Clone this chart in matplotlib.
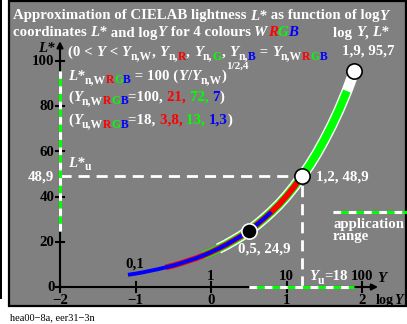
import numpy as np
import matplotlib
matplotlib.use("Agg")
import matplotlib.pyplot as plt
import matplotlib.patches as mpatches
from matplotlib.font_manager import FontProperties

W, H = 407, 324
SERIF = "Liberation Serif"
GRAY = "#808080"
RED, GREEN, BLUE, WHITE = "#ff0000", "#00ff00", "#0000ff", "#ffffff"

# ============ data ============
log_y = [-1.2, -1.1, -1.0, -0.9, -0.8, -0.7, -0.6, -0.5, -0.4, -0.3, -0.2, -0.1,
         0.0, 0.1, 0.2, 0.3, 0.4, 0.5, 0.6, 0.7, 0.8, 0.9, 1.0, 1.1, 1.2,
         1.3, 1.4, 1.5, 1.6, 1.7, 1.8, 1.9]
l_star = [4.9, 5.4, 5.9, 6.5, 7.2, 7.9, 8.7, 9.5, 10.5, 11.6, 12.7, 14.0,
          15.4, 17.0, 18.7, 20.6, 22.6, 24.9, 27.4, 30.2, 33.2, 36.5, 40.2, 44.3, 48.9,
          53.6, 59.0, 65.0, 71.5, 78.7, 86.7, 95.7]

# log Y range covered by each colour curve
range_white = (0.1, 1.9)
range_green = (-0.1, 1.8)
range_red = (-0.6, 1.2)
range_blue = (-1.1, 0.8)

marked_logy = [0.5, 1.2, 1.9]
marked_l = [24.9, 48.9, 95.7]

x_ticks = [-2, -1, 0, 1, 2]
x_ticklabels = ["\u22122", "\u22121", "0", "1", "2"]
y_ticks = [0, 20, 40, 60, 80, 100]
lin_labels = ["1", "10", "100"]

app_logy = (0.5, 1.9)
app_l = (24.9, 95.7)
l_u = 48.9
logy_u = 1.2

# ============ figure ============
fig = plt.figure(figsize=(W / 100, H / 100), dpi=100)
fig.patch.set_facecolor("white")
ax = fig.add_axes([0, 0, 1, 1])
X0, XS, Y0, YS = 211, 75.5, 287, 2.26
ax.set_xlim(-X0 / XS, (W - X0) / XS)
ax.set_ylim(-(H - Y0) / YS, Y0 / YS)
ax.axis("off")


def fx(px):
    return px / W


def fy(py):
    return 1 - py / H


# gray panel + left bar
ax.add_patch(mpatches.Rectangle((fx(8.5), fy(306)), fx(397), 305 / H, transform=ax.transAxes,
                                facecolor=GRAY, edgecolor="black", linewidth=1.6, zorder=0))
ax.add_patch(mpatches.Rectangle((0, fy(299)), fx(2), 299 / H, transform=ax.transAxes,
                                facecolor="black", edgecolor="none", zorder=0))

# dashed reference lines
ax.plot([-2, logy_u], [l_u, l_u], color=WHITE, lw=2, dashes=(4, 2.5), zorder=2)
ax.plot([logy_u, logy_u], [0, l_u], color=WHITE, lw=2, dashes=(4, 2.5), zorder=2)

# axes
ax.annotate("", xy=(-2, 110), xytext=(-2, -0.5),
            arrowprops=dict(arrowstyle="-|>", lw=1.5, color="black", mutation_scale=9), zorder=3)
ax.annotate("", xy=(2.25, 0), xytext=(-2.03, 0),
            arrowprops=dict(arrowstyle="-|>", lw=1.5, color="black", mutation_scale=9), zorder=3)
for t in y_ticks:
    ax.plot([-2.05, -1.95], [t, t], color="black", lw=1.5, zorder=3)
for t in x_ticks:
    ax.plot([t, t], [-2.2, 2.2], color="black", lw=1.5, zorder=3)

# application range (green/white dashes)
for xs, ys in [((-2, -2), app_l), (app_logy, (0, 0)), ((1.62, 2.6), (33.2, 33.2))]:
    ax.plot(xs, ys, color=GREEN, lw=2.2, zorder=4, solid_capstyle="butt")
    ax.plot(xs, ys, color=WHITE, lw=2.2, dashes=(2.5, 2.5), zorder=4)

# curves
x = np.array(log_y)
y = np.array(l_star)
for (lo, hi), col, lw, z in [(range_white, WHITE, 7.8, 5), (range_green, GREEN, 5.8, 6),
                              (range_red, RED, 4.2, 7), (range_blue, BLUE, 2.8, 8)]:
    m = (x >= lo - 1e-9) & (x <= hi + 1e-9)
    ax.plot(x[m], y[m], color=col, lw=lw, zorder=z, solid_capstyle="butt")

ax.plot(marked_logy[0], marked_l[0], "o", ms=11, mfc="black", mec=WHITE, mew=1.2, zorder=9)
ax.plot(marked_logy[1:], marked_l[1:], "o", ms=11, mfc=WHITE, mec="black", mew=1.2, zorder=9)

# ============ text ============
renderer = fig.canvas.get_renderer()
SIZE = 10.7


def width(s, fp):
    w1 = renderer.get_text_width_height_descent("|" + s + "|", fp, ismath=False)[0]
    w2 = renderer.get_text_width_height_descent("||", fp, ismath=False)[0]
    return w1 - w2


def rich(px, py, parts, size=SIZE):
    cx = px
    for s, col, kind in parts:
        fs, dy, st = size, 0, "normal"
        if kind == "i":
            st = "italic"
        elif kind == "sub":
            fs, dy = size * 0.78, 3.5
        elif kind == "sup":
            fs, dy = size * 0.75, -11
        fp = FontProperties(family=SERIF, weight="bold", style=st, size=fs)
        fig.text(fx(cx), fy(py + dy), s, color=col, fontproperties=fp, ha="left", va="baseline", zorder=10)
        cx += width(s, fp)
    return cx


def sub_wrgb(first="n,W"):
    return [(first, WHITE, "sub"), ("R", RED, "sub"), ("G", GREEN, "sub"), ("B", BLUE, "sub")]


rich(13, 19.5, [("Approximation of CIELAB lightness ", WHITE, "b"), ("L*", WHITE, "i"),
                (" as function of log", WHITE, "b"), ("Y", WHITE, "i")])
rich(13, 36.5, [("coordinates ", WHITE, "b"), ("L*", WHITE, "i"), (" and log", WHITE, "b"), ("Y", WHITE, "i"),
                (" for 4 colours ", WHITE, "b"), ("W", WHITE, "i"), ("R", RED, "i"), ("G", GREEN, "i"),
                ("B", BLUE, "i")])
rich(333, 36.5, [("log ", WHITE, "b"), ("Y", WHITE, "i"), (", ", WHITE, "b"), ("L*", WHITE, "i")])
rich(342, 55, [("1,9, 95,7", WHITE, "b")])

rich(68, 56, [("(0 < ", WHITE, "b"), ("Y", WHITE, "i"), (" < ", WHITE, "b"), ("Y", WHITE, "i"),
              ("n,W", WHITE, "sub"), (", ", WHITE, "b"), ("Y", WHITE, "i"), ("n,", WHITE, "sub"),
              ("R", RED, "sub"), (", ", WHITE, "b"), ("Y", WHITE, "i"), ("n,", WHITE, "sub"),
              ("G", GREEN, "sub"), (", ", WHITE, "b"), ("Y", WHITE, "i"), ("n,", WHITE, "sub"),
              ("B", BLUE, "sub"), (" = ", WHITE, "b"), ("Y", WHITE, "i")] + sub_wrgb())
rich(68, 80, [("L*", WHITE, "i")] + sub_wrgb() +
     [(" = 100 (", WHITE, "b"), ("Y", WHITE, "i"), ("/", WHITE, "b"), ("Y", WHITE, "i"),
      ("n,W", WHITE, "sub"), (")", WHITE, "b"), ("1/2,4", WHITE, "sup")])
rich(68, 101, [("(", WHITE, "b"), ("Y", WHITE, "i")] + sub_wrgb() +
     [("=100, ", WHITE, "b"), ("21, ", RED, "b"), ("72, ", GREEN, "b"), ("7", BLUE, "b"), (")", WHITE, "b")])
rich(68, 124, [("(", WHITE, "b"), ("Y", WHITE, "i")] + sub_wrgb("u,W") +
     [("=18, ", WHITE, "b"), ("3,8, ", RED, "b"), ("13, ", GREEN, "b"), ("1,3", BLUE, "b"), (")", WHITE, "b")])
rich(68, 167, [("L*", WHITE, "i"), ("u", WHITE, "sub")])

# axis labels
rich(38, 52, [("L*", "black", "i")])
bold = FontProperties(family=SERIF, weight="bold", size=SIZE)
for t in y_ticks:
    ax.annotate(str(t), (-2, t), xytext=(-4, -0.5), textcoords="offset points",
                ha="right", va="center", fontproperties=bold, color="black", zorder=10)
ax.annotate("48,9", (-2, l_u), xytext=(-4, -0.5), textcoords="offset points",
            ha="right", va="center", fontproperties=bold, color=WHITE, zorder=10)
for t, lab in zip(x_ticks, x_ticklabels):
    ax.annotate(lab, (t, 0), xytext=(0, -12), textcoords="offset points",
                ha="center", va="baseline", fontproperties=bold, color="black", zorder=10)
for t, lab in zip(x_ticks[2:], lin_labels):
    ax.annotate(lab, (t, 0), xytext=(0, 5), textcoords="offset points",
                ha="center", va="baseline", fontproperties=bold, color="black", zorder=10)
rich(377, 282, [("Y", "black", "i")])
rich(376, 304, [("log", "black", "b"), ("Y", "black", "i")], size=10.2)
rich(309, 280, [("Y", WHITE, "i"), ("u", WHITE, "sub"), ("=18", WHITE, "b")])

# point labels
rich(316, 181, [("1,2, 48,9", WHITE, "b")])
rich(238, 253, [("0,5, 24,9", WHITE, "b")])
rich(125, 268, [("0,1", "black", "b")])
rich(333, 228, [("application", WHITE, "b")])
rich(333, 240, [("range", WHITE, "b")])

fig.text(fx(10), fy(320), "hea00\u22128a, eer31\u22123n", fontsize=7.5, family=SERIF, color="black",
         ha="left", va="baseline")

fig.savefig("out.png", dpi=100)
